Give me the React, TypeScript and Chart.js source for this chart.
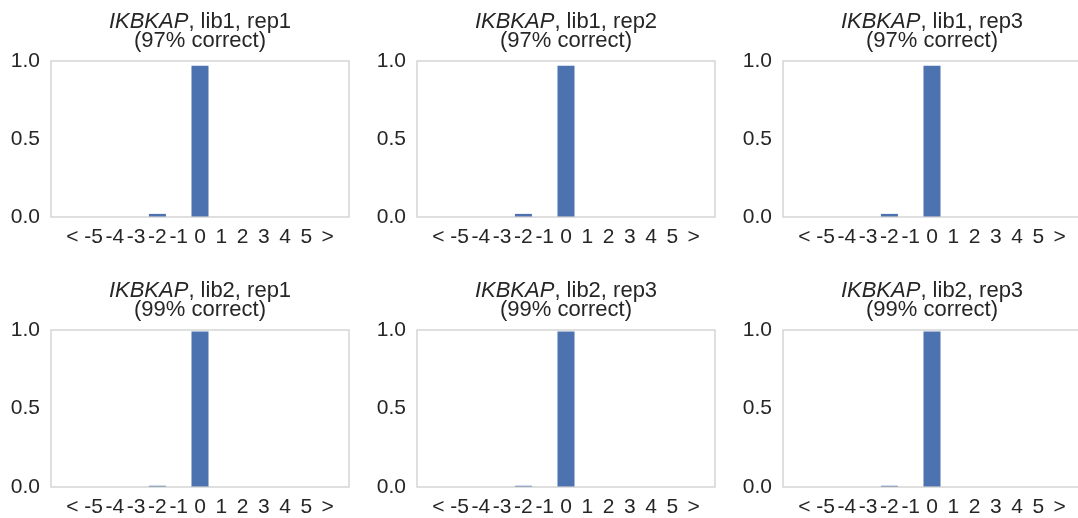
import React, { useEffect, useRef } from 'react';
import { Chart, registerables } from 'chart.js';

Chart.register(...registerables);

// ---- data ----
const CATEGORIES = ['<', '-5', '-4', '-3', '-2', '-1', '0', '1', '2', '3', '4', '5', '>'];
const Y_TICK_STEP = 0.5;
const GENE = 'IKBKAP';
const PANEL_LIBS = ['lib1', 'lib1', 'lib1', 'lib2', 'lib2', 'lib2'];
const PANEL_REPS = ['rep1', 'rep2', 'rep3', 'rep1', 'rep3', 'rep3'];
const PANEL_PCT = [97, 97, 97, 99, 99, 99];

const VALUES_LIB1_REP1 = [0, 0, 0, 0, 0.02, 0, 0.97, 0, 0, 0, 0, 0, 0];
const VALUES_LIB1_REP2 = [0, 0, 0, 0, 0.02, 0, 0.97, 0, 0, 0, 0, 0, 0];
const VALUES_LIB1_REP3 = [0, 0, 0, 0, 0.02, 0, 0.97, 0, 0, 0, 0, 0, 0];
const VALUES_LIB2_REP1 = [0, 0, 0, 0, 0.008, 0, 0.99, 0, 0, 0, 0, 0, 0];
const VALUES_LIB2_REP3A = [0, 0, 0, 0, 0.008, 0, 0.99, 0, 0, 0, 0, 0, 0];
const VALUES_LIB2_REP3B = [0, 0, 0, 0, 0.008, 0, 0.99, 0, 0, 0, 0, 0, 0];

const PANEL_VALUES = [
  VALUES_LIB1_REP1,
  VALUES_LIB1_REP2,
  VALUES_LIB1_REP3,
  VALUES_LIB2_REP1,
  VALUES_LIB2_REP3A,
  VALUES_LIB2_REP3B,
];

// ---- layout / style ----
const FONT = '"Liberation Sans", Arial, sans-serif';
const TICK_FONT_SIZE = 21;
const TITLE_FONT_SIZE = 22;
const TEXT_COLOR = '#262626';
const BAR_COLOR = '#4C72B0';
const FRAME_COLOR = '#cccccc';
const COL_LEFTS = [51, 417, 783];
const ROW_TOPS = [61, 330];
const PLOT_W = 300;
const PLOT_HS = [156, 157];
const LEFT_M = 50;
const TOP_M = 61;
const BOTTOM_M = 40;
const RIGHT_M = 6;

function Panel({ index }: { index: number }) {
  const ref = useRef<HTMLCanvasElement | null>(null);
  const row = Math.floor(index / 3);
  const col = index % 3;
  const plotH = PLOT_HS[row];
  const cw = LEFT_M + PLOT_W + RIGHT_M;
  const chh = TOP_M + plotH + BOTTOM_M;

  useEffect(() => {
    if (!ref.current) return;
    const framePlugin = {
      id: 'frame',
      afterDatasetsDraw(chart: any) {
        const { ctx, chartArea } = chart;
        ctx.save();
        ctx.strokeStyle = FRAME_COLOR;
        ctx.lineWidth = 1.25;
        ctx.strokeRect(chartArea.left, chartArea.top, chartArea.right - chartArea.left, chartArea.bottom - chartArea.top);
        ctx.restore();
      },
    };
    const titlePlugin = {
      id: 'panelTitle',
      afterDraw(chart: any) {
        const { ctx, chartArea } = chart;
        const cx = (chartArea.left + chartArea.right) / 2;
        ctx.save();
        ctx.fillStyle = TEXT_COLOR;
        ctx.textBaseline = 'alphabetic';
        ctx.textAlign = 'left';
        const italicFont = `italic ${TITLE_FONT_SIZE}px ${FONT}`;
        const normalFont = `${TITLE_FONT_SIZE}px ${FONT}`;
        const rest = `, ${PANEL_LIBS[index]}, ${PANEL_REPS[index]}`;
        ctx.font = italicFont;
        const w1 = ctx.measureText(GENE).width;
        ctx.font = normalFont;
        const w2 = ctx.measureText(rest).width;
        const x0 = cx - (w1 + w2) / 2;
        const y1 = chartArea.top - 33.5;
        ctx.font = italicFont;
        ctx.fillText(GENE, x0, y1);
        ctx.font = normalFont;
        ctx.fillText(rest, x0 + w1, y1);
        ctx.textAlign = 'center';
        ctx.fillText(`(${PANEL_PCT[index]}% correct)`, cx, chartArea.top - 14.5);
        ctx.restore();
      },
    };
    const labels = ['', ...CATEGORIES, ''];
    const data = [null, ...PANEL_VALUES[index], null];
    const chart = new Chart(ref.current, {
      type: 'bar',
      data: {
        labels,
        datasets: [
          {
            data,
            backgroundColor: BAR_COLOR,
            borderWidth: 0,
            barPercentage: 0.8,
            categoryPercentage: 1,
          },
        ],
      },
      options: {
        responsive: false,
        animation: false,
        layout: { padding: { top: TOP_M, right: RIGHT_M, left: 0, bottom: 0 } },
        plugins: {
          legend: { display: false },
          tooltip: { enabled: false },
          title: { display: false },
        },
        scales: {
          x: {
            type: 'category',
            offset: false,
            grid: { display: false, drawTicks: false },
            border: { display: false },
            ticks: {
              autoSkip: false,
              maxRotation: 0,
              minRotation: 0,
              padding: 8,
              color: TEXT_COLOR,
              font: { family: FONT, size: TICK_FONT_SIZE },
            },
            afterFit: (s: any) => {
              s.height = BOTTOM_M;
            },
          },
          y: {
            min: 0,
            max: 1,
            grid: { display: false, drawTicks: false },
            border: { display: false },
            ticks: {
              stepSize: Y_TICK_STEP,
              padding: 11,
              color: TEXT_COLOR,
              font: { family: FONT, size: TICK_FONT_SIZE },
              callback: (v: any) => Number(v).toFixed(1),
            },
            afterFit: (s: any) => {
              s.width = LEFT_M;
            },
          },
        },
      } as any,
      plugins: [framePlugin, titlePlugin],
    });
    return () => chart.destroy();
  }, [index]);

  return (
    <canvas
      ref={ref}
      width={cw}
      height={chh}
      style={{
        position: 'absolute',
        left: COL_LEFTS[col] - LEFT_M,
        top: ROW_TOPS[row] - TOP_M,
        width: cw,
        height: chh,
      }}
    />
  );
}

export default function App() {
  return (
    <div
      style={{
        position: 'fixed',
        left: 0,
        top: 0,
        width: 1078,
        height: 518,
        overflow: 'hidden',
        background: '#ffffff',
      }}
    >
      {PANEL_VALUES.map((_, i) => (
        <Panel key={i} index={i} />
      ))}
    </div>
  );
}
